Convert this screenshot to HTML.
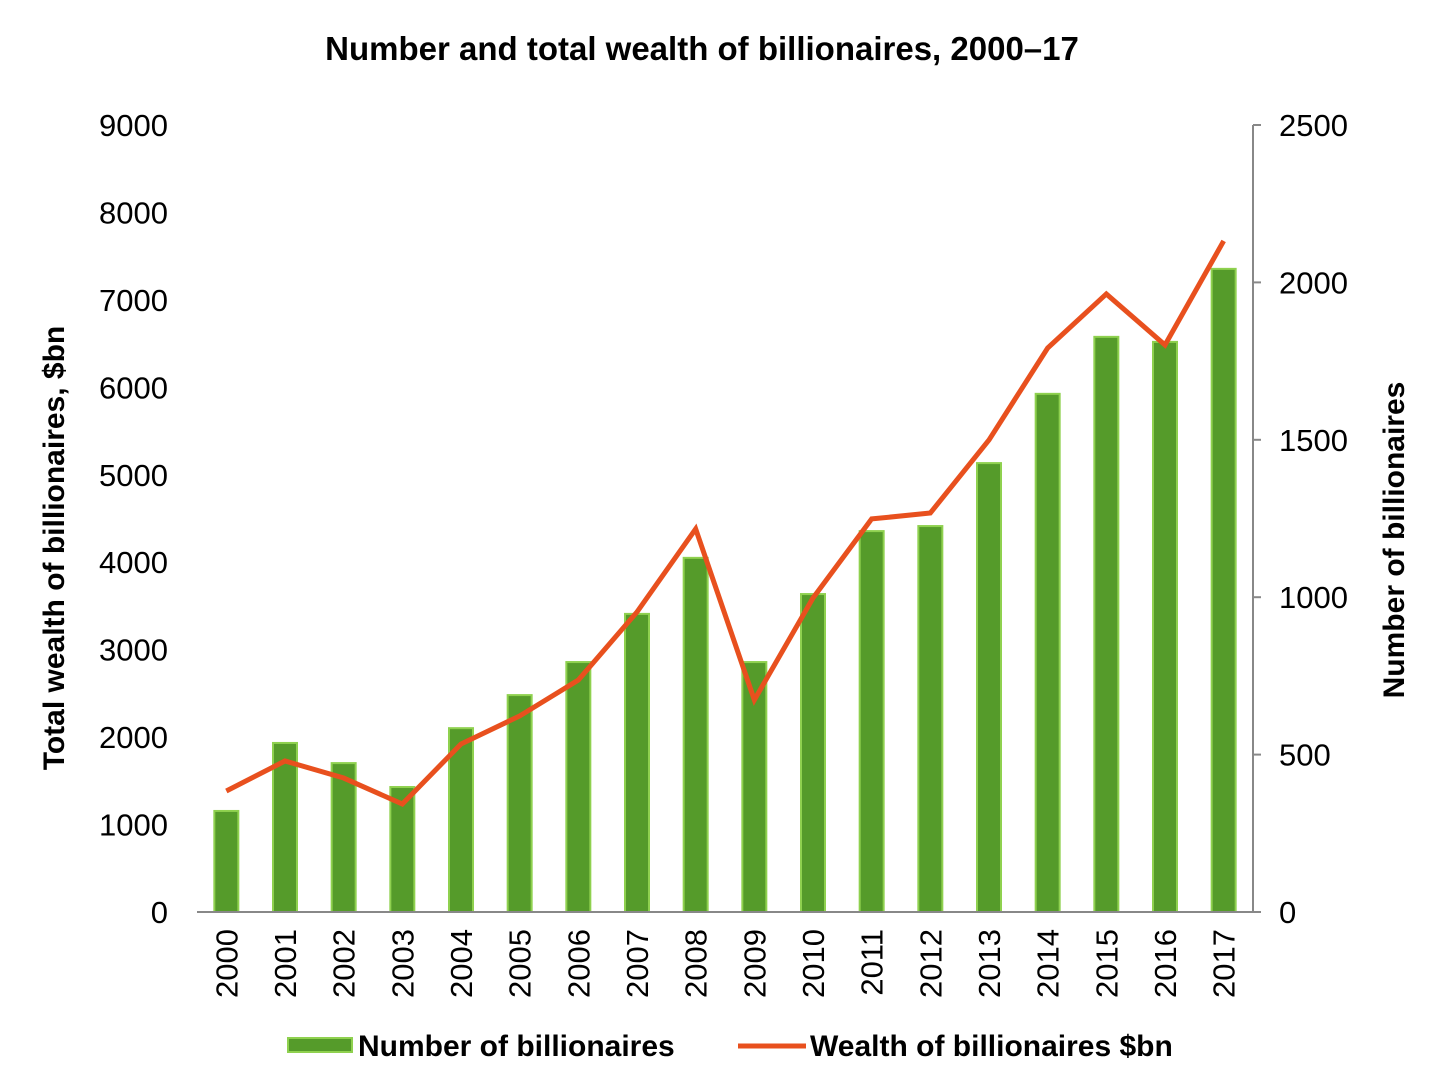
<!DOCTYPE html>
<html><head><meta charset="utf-8"><style>
html,body{margin:0;padding:0;background:#fff;}
svg text{font-family:"Liberation Sans",Arial,sans-serif;fill:#000;}
</style></head><body>
<svg id="chart" width="1430" height="1072" xmlns="http://www.w3.org/2000/svg">
<text x="702" y="60" text-anchor="middle" font-size="33" font-weight="bold">Number and total wealth of billionaires, 2000–17</text>
<g id="plot"></g>
<text transform="translate(64,548) rotate(-90)" text-anchor="middle" font-size="30" font-weight="bold">Total wealth of billionaires, $bn</text>
<text transform="translate(1404,540) rotate(-90)" text-anchor="middle" font-size="30" font-weight="bold">Number of billionaires</text>
<g>
<rect x="288" y="1038" width="64" height="14" fill="#559b2a" stroke="#8fd14f" stroke-width="2"/>
<text x="358" y="1056" font-size="30" font-weight="bold">Number of billionaires</text>
<line x1="738" y1="1046" x2="806" y2="1046" stroke="#e8501e" stroke-width="5"/>
<text x="810" y="1056" font-size="30" font-weight="bold">Wealth of billionaires $bn</text>
</g>
</svg>
<script>
const years=["2000","2001","2002","2003","2004","2005","2006","2007","2008","2009","2010","2011","2012","2013","2014","2015","2016","2017"];
const numberOfBillionaires=[321,537,473,397,584,689,794,947,1125,794,1010,1210,1226,1426,1646,1827,1811,2043];
const wealthBn=[1384,1727,1532,1235,1921,2242,2653,3431,4380,2425,3591,4495,4563,5398,6450,7068,6484,7674];
const leftTicks=[0,1000,2000,3000,4000,5000,6000,7000,8000,9000];
const rightTicks=[0,500,1000,1500,2000,2500];
const NS="http://www.w3.org/2000/svg";
const g=document.getElementById('plot');
const X0=197,X1=1253,Y0=912,Y1=125;
const band=(X1-X0)/years.length;
const xc=i=>X0+band*(i+0.5);
const yL=v=>Y0-(v/9000)*(Y0-Y1);
const yR=v=>Y0-(v/2500)*(Y0-Y1);
function mk(tag,attrs){const e=document.createElementNS(NS,tag);for(const k in attrs)e.setAttribute(k,attrs[k]);g.appendChild(e);return e;}
leftTicks.forEach(t=>{const e=mk('text',{x:168,y:yL(t)+11,'text-anchor':'end','font-size':31});e.textContent=t;

});
rightTicks.forEach(t=>{const e=mk('text',{x:1279,y:yR(t)+11,'font-size':31});e.textContent=t;


const l=mk('line',{x1:X1,x2:X1+8,y1:yR(t),y2:yR(t),stroke:'#888','stroke-width':2});

});
numberOfBillionaires.forEach((v,i)=>{const r=mk('rect',{x:xc(i)-12,y:yR(v),width:24,height:Y0-yR(v),fill:'#559b2a',stroke:'#8fd14f','stroke-width':2});

});
const ax=mk('line',{x1:X0,x2:X1,y1:Y0,y2:Y0,stroke:'#888','stroke-width':2});


const ay=mk('line',{x1:X1,x2:X1,y1:Y1,y2:Y0,stroke:'#888','stroke-width':2});


const p=mk('polyline',{points:wealthBn.map((v,i)=>xc(i)+','+yL(v)).join(' '),fill:'none',stroke:'#e8501e','stroke-width':5,'stroke-linejoin':'miter'});


years.forEach((y,i)=>{const t=mk('text',{transform:`translate(${xc(i)+11},929) rotate(-90)`,'text-anchor':'end','font-size':31});t.textContent=y;

});
</script>
</body></html>
